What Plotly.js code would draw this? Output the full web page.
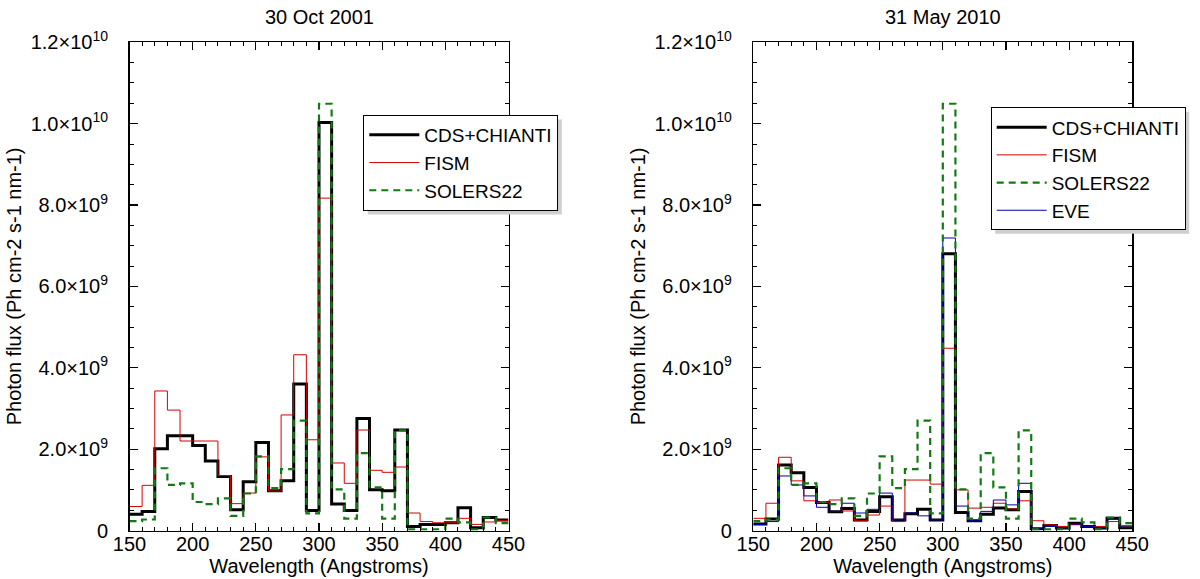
<!DOCTYPE html>
<html>
<head>
<meta charset="utf-8">
<script src="https://cdn.plot.ly/plotly-3.0.1.min.js"></script>
<style>html,body{margin:0;padding:0;background:#fff;}#chart{width:1200px;height:579px;}</style>
</head>
<body>
<div id="chart"></div>
<script>
// Bin edges (Angstroms), 10 A bins from 150 to 450
const binEdges = [150,160,170,180,190,200,210,220,230,240,250,260,270,280,290,300,310,320,330,340,350,360,370,380,390,400,410,420,430,440,450];

// 30 Oct 2001
const cds2001 = [0.40e9,0.47e9,2.01e9,2.33e9,2.33e9,2.09e9,1.71e9,1.33e9,0.51e9,1.20e9,2.16e9,0.98e9,1.22e9,3.60e9,0.49e9,10.03e9,0.65e9,0.49e9,2.75e9,1.00e9,0.98e9,2.47e9,0.10e9,0.15e9,0.15e9,0.19e9,0.56e9,0.07e9,0.32e9,0.26e9];
const fism2001 = [0.59e9,1.11e9,3.43e9,2.96e9,2.20e9,2.20e9,2.20e9,1.35e9,0.66e9,0.92e9,1.81e9,0.97e9,2.84e9,4.32e9,2.23e9,8.17e9,1.66e9,1.16e9,2.47e9,1.48e9,1.43e9,1.56e9,0.43e9,0.22e9,0.19e9,0.19e9,0.30e9,0.15e9,0.21e9,0.25e9];
// SOLERS22 (same spectrum in both panels)
const solers22 = [0.23e9,0.27e9,1.53e9,1.12e9,1.16e9,0.70e9,0.65e9,0.79e9,0.36e9,0.91e9,1.82e9,1.04e9,1.51e9,2.70e9,0.42e9,10.49e9,1.01e9,0.29e9,1.90e9,1.06e9,0.29e9,2.46e9,0.03e9,0.03e9,0.03e9,0.29e9,0.20e9,0.03e9,0.32e9,0.18e9];

// 31 May 2010
const cds2010 = [0.16e9,0.28e9,1.61e9,1.42e9,1.06e9,0.69e9,0.46e9,0.54e9,0.26e9,0.47e9,0.83e9,0.26e9,0.41e9,0.52e9,0.26e9,6.80e9,0.44e9,0.24e9,0.40e9,0.55e9,0.51e9,0.96e9,0.04e9,0.12e9,0.06e9,0.18e9,0.10e9,0.06e9,0.30e9,0.07e9];
const fism2010 = [0.30e9,0.67e9,1.80e9,1.22e9,0.73e9,0.69e9,0.75e9,0.48e9,0.24e9,0.38e9,0.60e9,0.22e9,1.24e9,1.24e9,1.14e9,4.48e9,1.00e9,0.55e9,0.57e9,0.67e9,0.53e9,0.73e9,0.24e9,0.14e9,0.10e9,0.14e9,0.10e9,0.10e9,0.22e9,0.12e9];
const eve2010  = [0.15e9,0.22e9,1.34e9,1.12e9,0.85e9,0.57e9,0.47e9,0.67e9,0.43e9,0.52e9,0.92e9,0.26e9,0.43e9,0.36e9,0.26e9,7.19e9,0.60e9,0.24e9,0.47e9,0.75e9,0.63e9,1.16e9,0.04e9,0.10e9,0.06e9,0.16e9,0.10e9,0.06e9,0.28e9,0.08e9];

// Tick labels
const yTickVals = [0, 2e9, 4e9, 6e9, 8e9, 1e10, 1.2e10];
const yTickText = ['0','2.0×10<sup>9</sup>','4.0×10<sup>9</sup>','6.0×10<sup>9</sup>','8.0×10<sup>9</sup>','1.0×10<sup>10</sup>','1.2×10<sup>10</sup>'];
const panelTitles = ['30 Oct 2001', '31 May 2010'];
const seriesNames = ['CDS+CHIANTI', 'FISM', 'SOLERS22', 'EVE'];

function stepY(v){ return v.concat([v[v.length-1]]); }

const styles = {
  cds:  {color:'#000000', width:3},
  fism: {color:'#d80000', width:1},
  sol:  {color:'#127a12', width:2.2, dash:'7px,5px'},
  eve:  {color:'#0000b4', width:1}
};

function tr(vals, name, st, xa, ya, leg, rank){
  return {type:'scatter', mode:'lines', x:binEdges, y:stepY(vals), name:name,
          line:Object.assign({shape:'hv'}, st), xaxis:xa, yaxis:ya, legend:leg,
          legendrank:rank, hoverinfo:'x+y+name'};
}

const data = [
  tr(cds2001,  seriesNames[0], styles.cds,  'x',  'y',  'legend',  1),
  tr(fism2001, seriesNames[1], styles.fism, 'x',  'y',  'legend',  2),
  tr(solers22, seriesNames[2], styles.sol,  'x',  'y',  'legend',  3),
  tr(cds2010,  seriesNames[0], styles.cds,  'x2', 'y2', 'legend2', 1),
  tr(fism2010, seriesNames[1], styles.fism, 'x2', 'y2', 'legend2', 2),
  tr(eve2010,  seriesNames[3], styles.eve,  'x2', 'y2', 'legend2', 4),
  tr(solers22, seriesNames[2], styles.sol,  'x2', 'y2', 'legend2', 3)
];

const FONT = 'Liberation Sans, Arial, Helvetica, sans-serif';

function xAxis(dom, anchor){
  return {domain:dom, anchor:anchor, range:[150,450], tickmode:'linear', tick0:150, dtick:50,
    ticks:'inside', ticklen:8, tickwidth:1.2, tickcolor:'#000',
    minor:{tickmode:'linear', tick0:150, dtick:10, ticks:'inside', ticklen:4, tickwidth:1, tickcolor:'#000'},
    showline:true, linecolor:'#000', linewidth:1.5, mirror:'ticks', showgrid:false, zeroline:false,
    tickfont:{size:20, color:'#000'}, ticklabelstandoff:-5, automargin:false,
    title:{text:'Wavelength (Angstroms)', font:{size:20, color:'#000'}, standoff:0}};
}
function yAxis(dom, anchor){
  return {domain:dom, anchor:anchor, range:[0,1.2e10], tickmode:'array', tickvals:yTickVals, ticktext:yTickText,
    ticks:'inside', ticklen:8, tickwidth:1.2, tickcolor:'#000',
    minor:{tickmode:'linear', tick0:0, dtick:5e8, ticks:'inside', ticklen:4, tickwidth:1, tickcolor:'#000'},
    showline:true, linecolor:'#000', linewidth:1.5, mirror:'ticks', showgrid:false, zeroline:false,
    tickfont:{size:20, color:'#000'}, ticklabelstandoff:16, automargin:false,
    title:{text:'Photon flux (Ph cm-2 s-1 nm-1)', font:{size:20, color:'#000'}, standoff:3}};
}

const yDom = [1-530.5/579, 1-42.3/579];
const legendCommon = {bgcolor:'#fff', bordercolor:'#000', borderwidth:1, font:{size:19, color:'#000', family:FONT},
  itemwidth:50, tracegroupgap:0, xref:'paper', yref:'paper', xanchor:'left', yanchor:'top'};

const layout = {
  width:1200, height:579, margin:{l:0,r:0,t:0,b:0}, paper_bgcolor:'#fff', plot_bgcolor:'#fff',
  font:{family:FONT, color:'#000', size:20},
  xaxis: xAxis([129.5/1200, 508.5/1200], 'y'),
  yaxis: yAxis(yDom, 'x'),
  xaxis2: xAxis([753.3/1200, 1132.3/1200], 'y2'),
  yaxis2: yAxis(yDom, 'x2'),
  legend: Object.assign({x:363.3/1200, y:1-115/579}, legendCommon),
  legend2: Object.assign({x:990.7/1200, y:1-107.3/579}, legendCommon),
  showlegend:true,
  annotations:[
    {text:panelTitles[0], xref:'paper', yref:'paper', x:319/1200, y:1-17/579, xanchor:'center', yanchor:'middle', showarrow:false, font:{size:20, color:'#000'}},
    {text:panelTitles[1], xref:'paper', yref:'paper', x:942.8/1200, y:1-17/579, xanchor:'center', yanchor:'middle', showarrow:false, font:{size:20, color:'#000'}}
  ],
  shapes:[]
};

// Legend drop shadows, placed behind each drawn legend box
Plotly.newPlot('chart', data, layout, {staticPlot:true, displayModeBar:false}).then(function(gd){
  const W = 1200, H = 579, off = 4;
  const root = gd.getBoundingClientRect();
  const shapes = [];
  gd.querySelectorAll('g.infolayer > g').forEach(function(g){
    const cls = g.getAttribute('class') || '';
    if(!/^legend\d*$/.test(cls)) return;
    const bg = g.querySelector('rect.bg');
    if(!bg) return;
    const r = bg.getBoundingClientRect();
    const x0 = r.left - root.left + off, x1 = r.right - root.left + off;
    const y0 = r.top - root.top + off, y1 = r.bottom - root.top + off;
    shapes.push({type:'rect', xref:'paper', yref:'paper', x0:x0/W, x1:x1/W, y0:1-y1/H, y1:1-y0/H,
                 fillcolor:'#cfcfcf', line:{width:0}, layer:'above'});
  });
  return Plotly.relayout(gd, {shapes:shapes});
});
</script>
</body>
</html>
